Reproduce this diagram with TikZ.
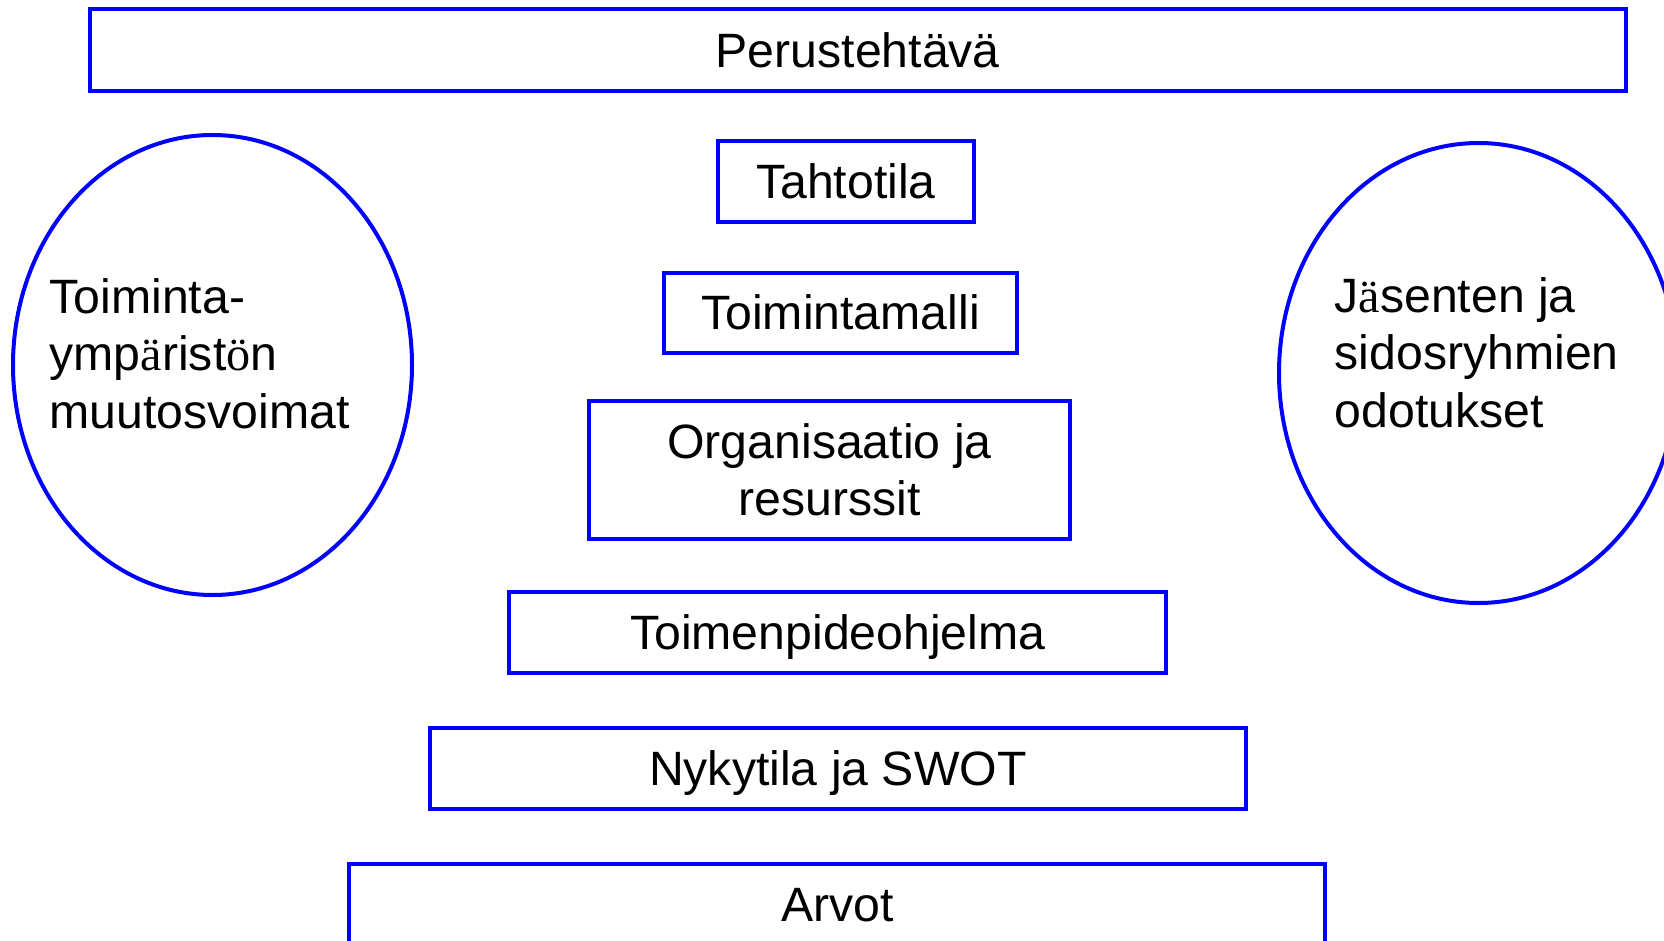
\documentclass[tikz,border=0pt]{standalone}
\usepackage{fontspec}
\setmainfont{Liberation Sans}
\newfontfamily\serifglyph{Liberation Serif}
\newcommand{\sg}[1]{{\serifglyph #1}}
\usetikzlibrary{shapes.geometric}

\begin{document}
\begin{tikzpicture}[x=1pt,y=-1pt,
    every node/.style={font=\fontsize{48.2}{57.3}\selectfont},
    box/.style={draw=blue,line width=4pt,rectangle,inner sep=0pt},
    oneline/.style={box,text height=41pt,text depth=7.2pt},
    oval/.style={draw=blue,line width=4pt,ellipse,inner sep=0pt,
      minimum width=399,minimum height=460},
    ovaltext/.style={anchor=base west,align=left,inner sep=0pt}]
  \useasboundingbox (0,0) rectangle (1664,941);
  % pyramid of boxes
  \node[oneline,minimum width=1536.5,minimum height=82] (peru) at (857.75,50.3) {Perustehtävä};
  \node[oneline,minimum width=256,minimum height=80.7] (tahto) at (846,181.7) {Tahtotila};
  \node[oneline,minimum width=353,minimum height=80.7] (malli) at (840.5,313) {Toimintamalli};
  \node[box,align=center,minimum width=481,minimum height=138] (org) at (829.5,470)
    {Organisaatio ja\\resurssit};
  \node[oneline,minimum width=657,minimum height=80.6] (toimen) at (837.8,632.5) {Toimenpideohjelma};
  \node[oneline,minimum width=816,minimum height=80.6] (nyky) at (837.8,768.3) {Nykytila ja SWOT};
  \node[oneline,minimum width=976,minimum height=81] (arvot) at (837.4,904.2) {Arvot};
  % ovals on both sides
  \node[oval] (ymparisto) at (212.5,365) {};
  \node[ovaltext] (ymparistoteksti) at (49.5,428)
    {Toiminta-\\ymp\sg{ä}rist\sg{ö}n\\muutosvoimat};
  \node[oval] (odotukset) at (1478.5,373) {};
  \node[ovaltext] (odotuksetteksti) at (1334.5,427)
    {J\sg{ä}senten ja\\sidosryhmien\\odotukset};
\end{tikzpicture}
\end{document}
